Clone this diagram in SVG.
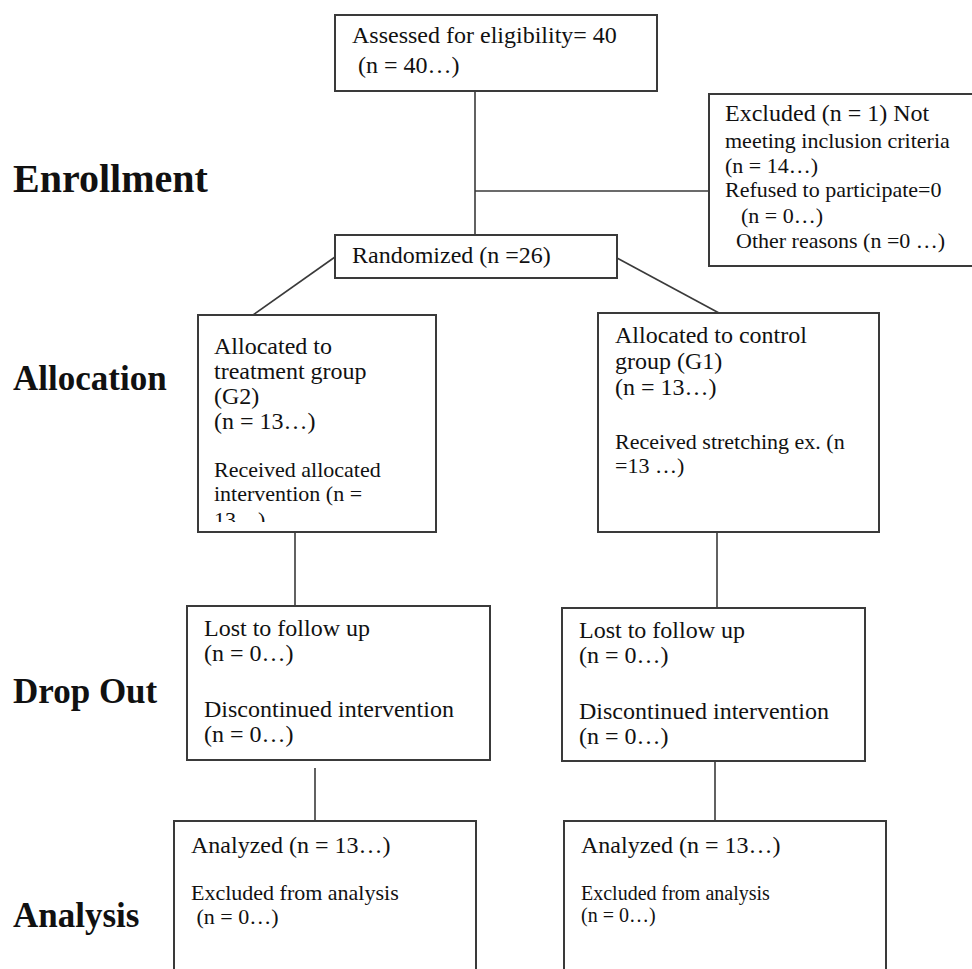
<svg xmlns="http://www.w3.org/2000/svg" width="972" height="969" viewBox="0 0 972 969">
<style>
.box{fill:none;stroke:#3a3a3a;stroke-width:2}
.ln{fill:none;stroke:#3a3a3a;stroke-width:1.6}
text{font-family:"Liberation Serif","Times New Roman",serif;fill:#111}
.t24{font-size:24px}
.t22{font-size:22px}
.t20{font-size:20px}
.sec{font-weight:bold;font-size:35px}
</style>
<defs>
<clipPath id="clipAlloc"><rect x="198" y="315" width="238" height="207"/></clipPath>
</defs>
<rect width="972" height="969" fill="#ffffff"/>

<g id="labels">
<text class="sec" x="13" y="192" style="font-size:40px">Enrollment</text>
<text class="sec" x="13" y="390">Allocation</text>
<text class="sec" x="13" y="703">Drop Out</text>
<text class="sec" x="13" y="927">Analysis</text>
</g>

<g id="connectors">
<line class="ln" x1="475" y1="91" x2="475" y2="235"/>
<line class="ln" x1="475" y1="191" x2="709" y2="191"/>
<line class="ln" x1="335" y1="257" x2="253" y2="315"/>
<line class="ln" x1="617" y1="258" x2="719" y2="313"/>
<line class="ln" x1="295" y1="532" x2="295" y2="606"/>
<line class="ln" x1="717" y1="532" x2="717" y2="608"/>
<line class="ln" x1="315" y1="768" x2="315" y2="821"/>
<line class="ln" x1="715" y1="761" x2="715" y2="821"/>
</g>

<g id="assessed">
<rect class="box" x="335" y="15" width="322" height="76"/>
<text class="t24" x="352" y="43">Assessed for eligibility= 40</text>
<text class="t24" x="352" y="73" xml:space="preserve"> (n = 40…)</text>
</g>

<g id="excluded">
<path class="box" d="M973,94 H709 V266 H973"/>
<text class="t24" x="725" y="121">Excluded (n = 1) Not</text>
<text class="t22" x="725" y="148">meeting inclusion criteria</text>
<text class="t22" x="725" y="173">(n = 14…)</text>
<text class="t22" x="725" y="197">Refused to participate=0</text>
<text class="t22" x="741" y="223">(n = 0…)</text>
<text class="t22" x="736" y="248">Other reasons (n =0 …)</text>
</g>

<g id="randomized">
<rect class="box" x="335" y="235" width="282" height="43"/>
<text class="t24" x="352" y="263">Randomized (n =26)</text>
</g>

<g id="alloc-treatment">
<rect class="box" x="198" y="315" width="238" height="217"/>
<g clip-path="url(#clipAlloc)">
<text class="t24" x="214" y="354">Allocated to</text>
<text class="t24" x="214" y="379">treatment group</text>
<text class="t24" x="214" y="404">(G2)</text>
<text class="t24" x="214" y="429">(n = 13…)</text>
<text class="t22" x="214" y="477">Received allocated</text>
<text class="t22" x="214" y="501">intervention (n =</text>
<text class="t22" x="214" y="527">13…)</text>
</g>
</g>

<g id="alloc-control">
<rect class="box" x="598" y="313" width="281" height="219"/>
<text class="t24" x="615" y="343">Allocated to control</text>
<text class="t24" x="615" y="369">group (G1)</text>
<text class="t24" x="615" y="395">(n = 13…)</text>
<text class="t22" x="615" y="449">Received stretching ex. (n</text>
<text class="t22" x="615" y="473">=13 …)</text>
</g>

<g id="drop-treatment">
<rect class="box" x="187" y="606" width="303" height="154"/>
<text class="t24" x="204" y="636">Lost to follow up</text>
<text class="t24" x="204" y="661">(n = 0…)</text>
<text class="t24" x="204" y="717">Discontinued intervention</text>
<text class="t24" x="204" y="742">(n = 0…)</text>
</g>

<g id="drop-control">
<rect class="box" x="562" y="608" width="303" height="153"/>
<text class="t24" x="579" y="638">Lost to follow up</text>
<text class="t24" x="579" y="663">(n = 0…)</text>
<text class="t24" x="579" y="719">Discontinued intervention</text>
<text class="t24" x="579" y="744">(n = 0…)</text>
</g>

<g id="analysis-treatment">
<path class="box" d="M174,970 V821 H476 V970"/>
<text class="t24" x="191" y="853">Analyzed (n = 13…)</text>
<text class="t22" x="191" y="900">Excluded from analysis</text>
<text class="t22" x="191" y="924" xml:space="preserve"> (n = 0…)</text>
</g>

<g id="analysis-control">
<path class="box" d="M564,970 V821 H886 V970"/>
<text class="t24" x="581" y="853">Analyzed (n = 13…)</text>
<text class="t20" x="581" y="900">Excluded from analysis</text>
<text class="t20" x="581" y="922">(n = 0…)</text>
</g>
</svg>
